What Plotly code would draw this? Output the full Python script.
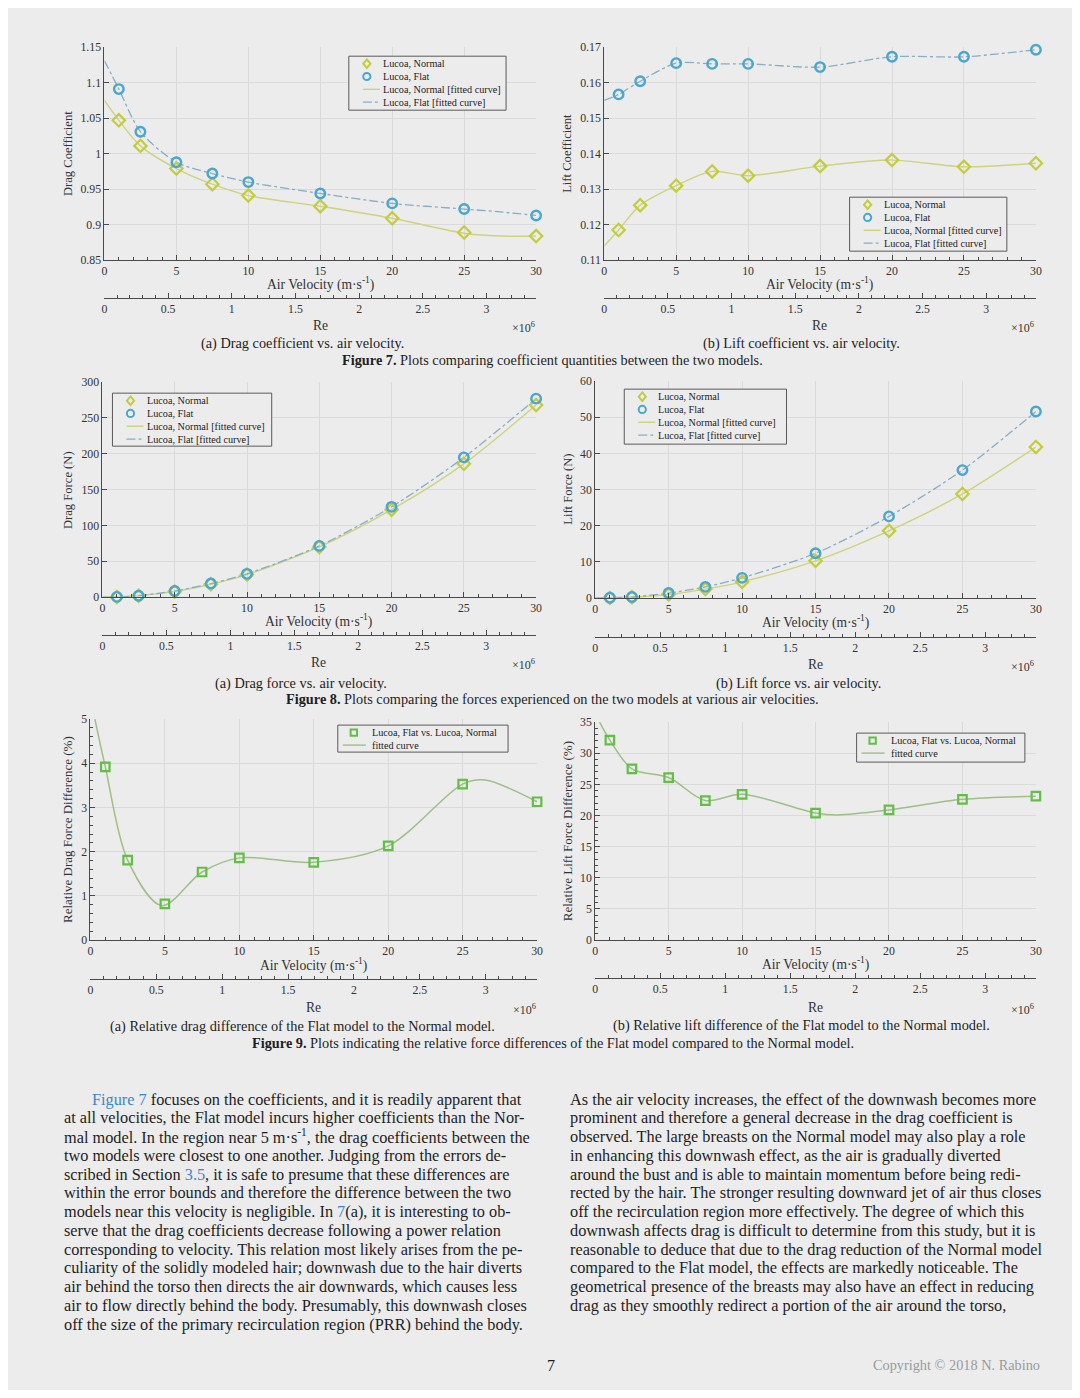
import plotly.graph_objects as go

# ---------------- data ----------------
VEL = [1, 2.5, 5, 7.5, 10, 15, 20, 25, 30]

CD_NORMAL = [1.047, 1.011, 0.979, 0.957, 0.941, 0.926, 0.909, 0.889, 0.884]
CD_FLAT = [1.091, 1.031, 0.988, 0.972, 0.960, 0.944, 0.930, 0.922, 0.913]
FIT_CD_X = [0, 1, 2.5, 5, 7.5, 10, 15, 20, 25, 27.5, 30]
FIT_CD_NORMAL = [1.075, 1.047, 1.011, 0.979, 0.957, 0.941, 0.926, 0.909, 0.888, 0.884, 0.884]
FIT_CD_FLAT = [1.131, 1.091, 1.031, 0.988, 0.972, 0.960, 0.944, 0.930, 0.922, 0.918, 0.913]

CL_NORMAL = [0.1185, 0.1255, 0.1310, 0.1350, 0.1338, 0.1365, 0.1382, 0.1363, 0.1373]
CL_FLAT = [0.1567, 0.1604, 0.1655, 0.1653, 0.1653, 0.1644, 0.1673, 0.1673, 0.1693]
FIT_CL_X = [0, 1, 2.5, 5, 7.5, 10, 15, 20, 25, 30]
FIT_CL_NORMAL = [0.1140, 0.1185, 0.1255, 0.1310, 0.1350, 0.1338, 0.1365, 0.1382, 0.1363, 0.1373]
FIT_CL_FLAT = [0.1550, 0.1567, 0.1604, 0.1655, 0.1653, 0.1653, 0.1644, 0.1673, 0.1673, 0.1693]

FD_NORMAL = [0.3, 2.0, 8.0, 18.0, 31.5, 70.0, 122.0, 186.0, 268.0]
FD_FLAT = [0.3, 2.0, 8.5, 19.0, 32.5, 71.5, 126.0, 195.0, 277.0]
FIT_F_X = [0, 1, 2.5, 5, 7.5, 10, 15, 20, 25, 30]
FIT_FD_NORMAL = [0.0, 0.3, 2.0, 8.0, 18.0, 31.5, 70.0, 122.0, 186.0, 268.0]
FIT_FD_FLAT = [0.0, 0.3, 2.0, 8.5, 19.0, 32.5, 71.5, 126.0, 195.0, 277.0]

FL_NORMAL = [0.07, 0.25, 1.0, 2.5, 4.5, 10.3, 18.6, 28.8, 41.8]
FL_FLAT = [0.10, 0.30, 1.4, 3.1, 5.6, 12.4, 22.6, 35.4, 51.6]
FIT_FL_NORMAL = [0.0, 0.07, 0.25, 1.0, 2.5, 4.5, 10.3, 18.6, 28.8, 41.8]
FIT_FL_FLAT = [0.0, 0.10, 0.30, 1.4, 3.1, 5.6, 12.4, 22.6, 35.4, 51.6]

REL_DRAG = [3.92, 1.81, 0.82, 1.54, 1.86, 1.76, 2.13, 3.53, 3.13]
FIT_RD_X = [0.3, 1, 2.5, 4.8, 7.5, 10, 15, 20, 25, 26.5, 30]
FIT_RD_Y = [5.0, 3.92, 1.81, 0.78, 1.54, 1.86, 1.76, 2.13, 3.53, 3.62, 3.13]

REL_LIFT = [32.1, 27.5, 26.1, 22.4, 23.4, 20.4, 20.9, 22.6, 23.1]
FIT_RL_X = [0.3, 1, 2.5, 5, 7.5, 10, 15, 16.5, 20, 25, 30]
FIT_RL_Y = [35.0, 32.1, 27.5, 26.1, 22.4, 23.4, 20.4, 20.1, 20.9, 22.6, 23.1]

RE_MAX = 3.39          # Reynolds number (x10^6) at 30 m/s
RE_DTICK = 0.5

LEG_COEF = ["Lucoa, Normal", "Lucoa, Flat", "Lucoa, Normal [fitted curve]", "Lucoa, Flat [fitted curve]"]
LEG_REL = ["Lucoa, Flat vs. Lucoa, Normal", "fitted curve"]

# ---------------- styling ----------------
W, H = 1064, 1382
SC, CX, CY = 0.99, 10.7, 14.8      # page-capture calibration
BG = "#ececec"
FONT = "Liberation Serif"
C_NORMAL = "#c4cc3c"
C_NORMAL_LINE = "#ccd47e"
C_FLAT = "#4aa6cf"
C_FLAT_LINE = "#86aec4"
C_SQ = "#62bf45"
C_SQ_LINE = "#9fbf86"
AX = "#4a4a4a"
GRID = "#dadada"
TXT = "#1e1e1e"
LINK = "#3f86c4"


def px(x):
    return ((x - CX) / SC) / W


def py(y):
    return 1 - ((y - CY) / SC) / H


fig = go.Figure()

panels = [
    dict(xd=(104, 535), yd=(47, 260), re_y=298, yr=[0.85, 1.15], dy=0.05, ymin=None,
         ytitle="Drag Coefficient", tsize=12.6, ytx=67, vx=(320, 284), rex=(320, 325),
         leg=(348, 56, 157, 54)),
    dict(xd=(603, 1034), yd=(47, 260), re_y=298, yr=[0.11, 0.17], dy=0.01, ymin=None,
         ytitle="Lift Coefficient", tsize=12.6, ytx=566, vx=(818, 284), rex=(818, 325),
         leg=(848, 197, 157, 54)),
    dict(xd=(102, 535), yd=(382, 597), re_y=635, yr=[0, 300], dy=50, ymin=None,
         ytitle="Drag Force (N)", tsize=12.6, ytx=67, vx=(318, 621), rex=(318, 662),
         leg=(112, 393, 159, 53)),
    dict(xd=(594, 1034), yd=(381, 598), re_y=637, yr=[0, 60], dy=10, ymin=None,
         ytitle="Lift Force (N)", tsize=12.6, ytx=566, vx=(814, 622), rex=(814, 664),
         leg=(623, 389, 162, 55)),
    dict(xd=(90, 536), yd=(719, 940), re_y=979, yr=[0, 5], dy=1, ymin=0.2,
         ytitle="Relative Drag Force Difference (%)", tsize=13, ytx=67, vx=(313, 965), rex=(313, 1007),
         leg=(337, 725, 170, 27)),
    dict(xd=(594, 1034), yd=(722, 940), re_y=978, yr=[0, 35], dy=5, ymin=1,
         ytitle="Relative Lift Force Difference (%)", tsize=13, ytx=566, vx=(814, 964), rex=(814, 1007),
         leg=(855, 733, 168, 29)),
]

series = [
    (CD_NORMAL, CD_FLAT, FIT_CD_X, FIT_CD_NORMAL, FIT_CD_FLAT),
    (CL_NORMAL, CL_FLAT, FIT_CL_X, FIT_CL_NORMAL, FIT_CL_FLAT),
    (FD_NORMAL, FD_FLAT, FIT_F_X, FIT_FD_NORMAL, FIT_FD_FLAT),
    (FL_NORMAL, FL_FLAT, FIT_F_X, FIT_FL_NORMAL, FIT_FL_FLAT),
]
rel = [
    (REL_DRAG, FIT_RD_X, FIT_RD_Y),
    (REL_LIFT, FIT_RL_X, FIT_RL_Y),
]

layout_axes = {}
shapes = []
annotations = []
tick_font = dict(family=FONT, size=11.8, color="#333")


def note(text, x, y, size=14.3, xanchor="center", color=TXT, yanchor="middle", angle=0):
    annotations.append(dict(text=text, x=px(x), y=py(y), xref="paper", yref="paper", showarrow=False,
                            xanchor=xanchor, yanchor=yanchor, textangle=angle,
                            font=dict(family=FONT, size=size, color=color)))


def sym(kind, cx, cy, color, r=3.6):
    common = dict(xref="paper", yref="paper", line=dict(color=color, width=2), fillcolor="rgba(0,0,0,0)")
    if kind == "diamond":
        path = (f"M {px(cx)},{py(cy - r - 0.6)} L {px(cx + r)},{py(cy)} "
                f"L {px(cx)},{py(cy + r + 0.6)} L {px(cx - r)},{py(cy)} Z")
        shapes.append(dict(type="path", path=path, **common))
    elif kind == "circle":
        shapes.append(dict(type="circle", x0=px(cx - r), x1=px(cx + r), y0=py(cy + r), y1=py(cy - r), **common))
    elif kind == "square":
        shapes.append(dict(type="rect", x0=px(cx - r), x1=px(cx + r), y0=py(cy + r), y1=py(cy - r), **common))


def hline(x0, x1, y, color, dash="solid", width=1.4):
    shapes.append(dict(type="line", xref="paper", yref="paper", x0=px(x0), x1=px(x1), y0=py(y), y1=py(y),
                       line=dict(color=color, width=width, dash=dash)))


for i, p in enumerate(panels):
    n = i + 1
    xs = "x" if n == 1 else f"x{n}"
    ys = "y" if n == 1 else f"y{n}"
    xk = "xaxis" if n == 1 else f"xaxis{n}"
    yk = "yaxis" if n == 1 else f"yaxis{n}"
    rn = n + 6

    if i < 4:
        yn, yf, fx, fn, ff = series[i]
        fig.add_trace(go.Scatter(x=fx, y=fn, mode="lines", line=dict(color=C_NORMAL_LINE, width=1.4, shape="spline", smoothing=0.8),
                                 name=LEG_COEF[2], showlegend=False, xaxis=xs, yaxis=ys, hoverinfo="skip"))
        fig.add_trace(go.Scatter(x=fx, y=ff, mode="lines", line=dict(color=C_FLAT_LINE, width=1.3, dash="dashdot", shape="spline", smoothing=0.8),
                                 name=LEG_COEF[3], showlegend=False, xaxis=xs, yaxis=ys, hoverinfo="skip"))
        fig.add_trace(go.Scatter(x=VEL, y=yn, mode="markers", cliponaxis=False,
                                 marker=dict(symbol="diamond-open", size=9.5, color=C_NORMAL, line=dict(width=2.2, color=C_NORMAL)),
                                 name=LEG_COEF[0], showlegend=False, xaxis=xs, yaxis=ys))
        fig.add_trace(go.Scatter(x=VEL, y=yf, mode="markers", cliponaxis=False,
                                 marker=dict(symbol="circle-open", size=9.5, color=C_FLAT, line=dict(width=2.4, color=C_FLAT)),
                                 name=LEG_COEF[1], showlegend=False, xaxis=xs, yaxis=ys))
    else:
        yv, fx, fy = rel[i - 4]
        fig.add_trace(go.Scatter(x=fx, y=fy, mode="lines", line=dict(color=C_SQ_LINE, width=1.5, shape="spline", smoothing=0.9),
                                 name=LEG_REL[1], showlegend=False, xaxis=xs, yaxis=ys, hoverinfo="skip"))
        fig.add_trace(go.Scatter(x=VEL, y=yv, mode="markers", cliponaxis=False,
                                 marker=dict(symbol="square-open", size=8.5, color=C_SQ, line=dict(width=2.2, color=C_SQ)),
                                 name=LEG_REL[0], showlegend=False, xaxis=xs, yaxis=ys))

    # invisible trace to register the Reynolds-number axis
    fig.add_trace(go.Scatter(x=[0, RE_MAX], y=[0, 0], mode="markers", marker=dict(opacity=0),
                             showlegend=False, hoverinfo="skip", xaxis=f"x{rn}", yaxis=f"y{rn}"))

    xdom = [px(p["xd"][0]), px(p["xd"][1])]
    layout_axes[xk] = dict(
        domain=xdom, anchor=ys, range=[0, 30], dtick=5, tick0=0,
        showline=True, linecolor=AX, linewidth=1, ticks="inside", ticklen=5, tickcolor=AX,
        minor=dict(dtick=1, ticks="inside", ticklen=3, tickcolor=AX, showgrid=False),
        showgrid=True, gridcolor=GRID, gridwidth=0.8, zeroline=False, tickfont=tick_font,
    )
    yax = dict(
        domain=[py(p["yd"][1]), py(p["yd"][0])], anchor=xs, range=p["yr"], dtick=p["dy"], tick0=p["yr"][0],
        showline=True, linecolor=AX, linewidth=1, ticks="inside", ticklen=5, tickcolor=AX,
        showgrid=True, gridcolor=GRID, gridwidth=0.8, zeroline=False, tickfont=tick_font,
    )
    if p["ymin"]:
        yax["minor"] = dict(dtick=p["ymin"], ticks="inside", ticklen=3, tickcolor=AX, showgrid=False)
    layout_axes[yk] = yax

    # Reynolds-number axis
    ry = py(p["re_y"])
    layout_axes[f"xaxis{rn}"] = dict(
        domain=xdom, anchor=f"y{rn}", range=[0, RE_MAX], dtick=RE_DTICK, tick0=0,
        showline=True, linecolor=AX, linewidth=1, ticks="inside", ticklen=5, tickcolor=AX,
        minor=dict(dtick=0.1, ticks="inside", ticklen=3, tickcolor=AX, showgrid=False),
        showgrid=False, zeroline=False, tickfont=tick_font,
    )
    layout_axes[f"yaxis{rn}"] = dict(domain=[ry, ry + 0.002], anchor=f"x{rn}", visible=False, range=[0, 1])

    # axis titles
    ymid = (p["yd"][0] + p["yd"][1]) / 2
    note(p["ytitle"], p["ytx"], ymid, size=p["tsize"], color="#333", angle=-90)
    note("Air Velocity (m·s<sup>-1</sup>)", p["vx"][0], p["vx"][1], size=13.6, color="#333")
    note("Re", p["rex"][0], p["rex"][1], size=13.6, color="#333")
    note("×10<sup>6</sup>", p["xd"][1] - 13, p["rex"][1] + 2, size=12, color="#333")

    # legend box (drawn as shapes + text)
    L, T, lw, lh = p["leg"]
    shapes.append(dict(type="rect", xref="paper", yref="paper", x0=px(L), x1=px(L + lw), y0=py(T + lh), y1=py(T),
                       line=dict(color="#5a5a5a", width=1), fillcolor=BG))
    if i < 4:
        rows = [T + 7.5 + k * 12.8 for k in range(4)]
        sym("diamond", L + 18, rows[0], C_NORMAL)
        sym("circle", L + 18, rows[1], C_FLAT)
        hline(L + 14, L + 31, rows[2], C_NORMAL_LINE)
        hline(L + 14, L + 31, rows[3], C_FLAT_LINE, dash="dashdot", width=1.2)
        for k, lab in enumerate(LEG_COEF):
            note(lab, L + 32, rows[k], size=10.2, xanchor="left", color="#222")
    else:
        rows = [T + 7.5, T + 20]
        sym("square", L + 16, rows[0], C_SQ, r=3.2)
        hline(L + 5, L + 28, rows[1], C_SQ_LINE)
        for k, lab in enumerate(LEG_REL):
            note(lab, L + 32, rows[k], size=10.2, xanchor="left", color="#222")

# captions
note("(a) Drag coefficient vs. air velocity.", 302, 343)
note("(b) Lift coefficient vs. air velocity.", 800, 343)
note("<b>Figure 7.</b> Plots comparing coefficient quantities between the two models.", 551, 360)
note("(a) Drag force vs. air velocity.", 300, 683)
note("(b) Lift force vs. air velocity.", 797, 683)
note("<b>Figure 8.</b> Plots comparing the forces experienced on the two models at various air velocities.", 551, 699)
note("(a) Relative drag difference of the Flat model to the Normal model.", 302, 1026)
note("(b) Relative lift difference of the Flat model to the Normal model.", 800, 1025)
note("<b>Figure 9.</b> Plots indicating the relative force differences of the Flat model compared to the Normal model.", 552, 1043)

# body text
left_lines = [
    f"<span style='color:{LINK}'>Figure 7</span> focuses on the coefficients, and it is readily apparent that",
    "at all velocities, the Flat model incurs higher coefficients than the Nor-",
    "mal model. In the region near 5 m·s<sup>-1</sup>, the drag coefficients between the",
    "two models were closest to one another. Judging from the errors de-",
    f"scribed in Section <span style='color:{LINK}'>3.5</span>, it is safe to presume that these differences are",
    "within the error bounds and therefore the difference between the two",
    f"models near this velocity is negligible. In <span style='color:{LINK}'>7</span>(a), it is interesting to ob-",
    "serve that the drag coefficients decrease following a power relation",
    "corresponding to velocity. This relation most likely arises from the pe-",
    "culiarity of the solidly modeled hair; downwash due to the hair diverts",
    "air behind the torso then directs the air downwards, which causes less",
    "air to flow directly behind the body. Presumably, this downwash closes",
    "off the size of the primary recirculation region (PRR) behind the body.",
]
right_lines = [
    "As the air velocity increases, the effect of the downwash becomes more",
    "prominent and therefore a general decrease in the drag coefficient is",
    "observed. The large breasts on the Normal model may also play a role",
    "in enhancing this downwash effect, as the air is gradually diverted",
    "around the bust and is able to maintain momentum before being redi-",
    "rected by the hair. The stronger resulting downward jet of air thus closes",
    "off the recirculation region more effectively. The degree of which this",
    "downwash affects drag is difficult to determine from this study, but it is",
    "reasonable to deduce that due to the drag reduction of the Normal model",
    "compared to the Flat model, the effects are markedly noticeable. The",
    "geometrical presence of the breasts may also have an effect in reducing",
    "drag as they smoothly redirect a portion of the air around the torso,",
]
for k, line in enumerate(left_lines):
    note(line, 90 if k == 0 else 62, 1099 + k * 18.75, size=16.3, xanchor="left")
for k, line in enumerate(right_lines):
    note(line, 567, 1099 + k * 18.75, size=16.3, xanchor="left")

note("7", 550, 1365, size=16, color=TXT)
note("Copyright © 2018 N. Rabino", 1040, 1365, size=14.3, xanchor="right", color="#9a9a9a")

fig.update_layout(
    width=W, height=H, margin=dict(l=0, r=0, t=0, b=0),
    paper_bgcolor=BG, plot_bgcolor=BG,
    font=dict(family=FONT, color="#333"),
    annotations=annotations, shapes=shapes,
    showlegend=False, hovermode=False,
    **layout_axes,
)

fig.write_html("out.html")
